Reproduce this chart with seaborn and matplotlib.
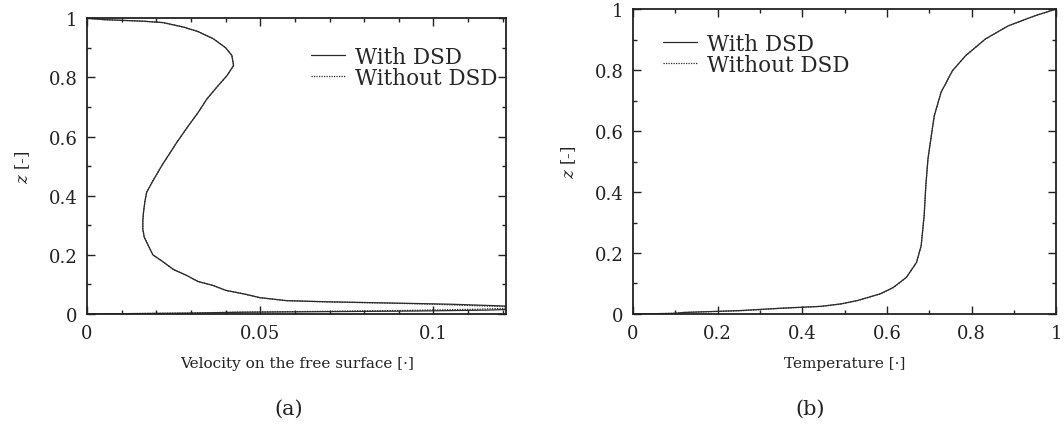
import numpy as np
import pandas as pd
import matplotlib
matplotlib.use("Agg")
import matplotlib.pyplot as plt
from matplotlib.ticker import MultipleLocator, FuncFormatter
import seaborn as sns

# (a) free-surface velocity profile, ordered along the curve
vel_z_with = [0.0, 0.003, 0.006, 0.008, 0.010, 0.013, 0.020, 0.028, 0.033, 0.037,
              0.041, 0.045, 0.055, 0.068, 0.080, 0.096, 0.110, 0.130, 0.150, 0.175,
              0.200, 0.231, 0.260, 0.287, 0.315, 0.344, 0.380, 0.411, 0.450, 0.502,
              0.540, 0.580, 0.637, 0.680, 0.727, 0.770, 0.806, 0.840, 0.874, 0.900,
              0.930, 0.955, 0.970, 0.985, 0.990, 0.995, 1.0]
vel_with = [0.0, 0.030, 0.045, 0.070, 0.095, 0.115, 0.135, 0.118, 0.105, 0.088,
            0.070, 0.0577, 0.050, 0.0452, 0.040, 0.0365, 0.032, 0.0288, 0.025, 0.0221,
            0.019, 0.0177, 0.0165, 0.0161, 0.0161, 0.0163, 0.0167, 0.0172, 0.019, 0.0216,
            0.0237, 0.0259, 0.0293, 0.032, 0.0346, 0.0377, 0.0404, 0.0423, 0.0418, 0.040,
            0.0365, 0.032, 0.0278, 0.022, 0.016, 0.005, 0.0]
vel_z_without = [0.0, 0.003, 0.006, 0.009, 0.012, 0.016, 0.022, 0.028, 0.033, 0.037,
                 0.041, 0.045, 0.055, 0.068, 0.080, 0.096, 0.110, 0.130, 0.150, 0.175,
                 0.200, 0.231, 0.260, 0.287, 0.315, 0.344, 0.380, 0.411, 0.450, 0.502,
                 0.540, 0.580, 0.637, 0.680, 0.727, 0.770, 0.806, 0.840, 0.874, 0.900,
                 0.930, 0.955, 0.970, 0.985, 0.990, 0.995, 1.0]
vel_without = [0.0, 0.028, 0.043, 0.068, 0.092, 0.112, 0.130, 0.112, 0.100, 0.086,
               0.069, 0.0575, 0.050, 0.0452, 0.040, 0.0365, 0.032, 0.0288, 0.025, 0.0221,
               0.019, 0.0177, 0.0165, 0.0161, 0.0161, 0.0163, 0.0167, 0.0172, 0.019, 0.0216,
               0.0237, 0.0259, 0.0293, 0.032, 0.0346, 0.0377, 0.0404, 0.0423, 0.0418, 0.040,
               0.0365, 0.032, 0.0278, 0.022, 0.016, 0.005, 0.0]

# (b) temperature profile
temp_z = [0.0, 0.002, 0.005, 0.011, 0.019, 0.025, 0.033, 0.044, 0.066, 0.087,
          0.120, 0.169, 0.224, 0.322, 0.421, 0.508, 0.585, 0.650, 0.727, 0.798,
          0.847, 0.902, 0.945, 0.978, 1.0]
temp_with = [0.0, 0.10, 0.12, 0.25, 0.351, 0.444, 0.491, 0.530, 0.584, 0.615,
             0.646, 0.670, 0.681, 0.688, 0.692, 0.697, 0.705, 0.712, 0.728, 0.755,
             0.786, 0.833, 0.887, 0.950, 1.0]
temp_without = [0.0, 0.09, 0.12, 0.26, 0.355, 0.446, 0.492, 0.531, 0.585, 0.616,
                0.646, 0.670, 0.681, 0.688, 0.692, 0.697, 0.705, 0.712, 0.728, 0.755,
                0.786, 0.833, 0.887, 0.950, 1.0]

sns.set_theme(style="white")
plt.rcParams["font.family"] = ["DejaVu Serif"]
plt.rcParams["mathtext.fontset"] = "dejavuserif"

fig = plt.figure(figsize=(10.64, 4.35), dpi=100)
ax1 = fig.add_axes([0.0818, 0.2759, 0.394, 0.680])
ax2 = fig.add_axes([0.595, 0.2759, 0.3976, 0.701])

line_color = "#2a2a2a"


def gfmt(x, pos):
    return "%g" % round(x, 4)


def style_axis(ax, xmaj, xmin, xlim):
    ax.set_xlim(*xlim)
    ax.set_ylim(0, 1)
    ax.xaxis.set_major_locator(MultipleLocator(xmaj))
    ax.xaxis.set_minor_locator(MultipleLocator(xmin))
    ax.yaxis.set_major_locator(MultipleLocator(0.2))
    ax.yaxis.set_minor_locator(MultipleLocator(0.1))
    ax.xaxis.set_major_formatter(FuncFormatter(gfmt))
    ax.yaxis.set_major_formatter(FuncFormatter(gfmt))
    ax.tick_params(which="both", direction="in", top=True, right=True,
                   bottom=True, left=True, colors="#222222", labelsize=13,
                   width=1.0)
    ax.tick_params(which="major", length=6, pad=7)
    ax.tick_params(which="minor", length=3)
    for s in ax.spines.values():
        s.set_color("#222222")
        s.set_linewidth(1.3)
    ax.set_ylabel(r"$z$ [-]", fontsize=12, labelpad=12, color="#222222")


# panel (a)
df_a1 = pd.DataFrame({"v": vel_with, "z": vel_z_with})
df_a2 = pd.DataFrame({"v": vel_without, "z": vel_z_without})
sns.lineplot(data=df_a1, x="v", y="z", sort=False, estimator=None, ax=ax1,
             color=line_color, lw=0.9, label="With DSD")
sns.lineplot(data=df_a2, x="v", y="z", sort=False, estimator=None, ax=ax1,
             color=line_color, lw=0.9, linestyle=(0, (1, 1)), label="Without DSD")
style_axis(ax1, 0.05, 0.01, (0, 0.121))
ax1.set_xlabel("Velocity on the free surface [·]", fontsize=11, labelpad=10,
               color="#222222")
ax1.legend(loc="upper right", bbox_to_anchor=(1.0, 0.935), frameon=False,
           fontsize=15.5, handlelength=1.6, handletextpad=0.45, labelspacing=-0.05,
           borderaxespad=0.0)

# panel (b)
df_b1 = pd.DataFrame({"T": temp_with, "z": temp_z})
df_b2 = pd.DataFrame({"T": temp_without, "z": temp_z})
sns.lineplot(data=df_b1, x="T", y="z", sort=False, estimator=None, ax=ax2,
             color=line_color, lw=0.9, label="With DSD")
sns.lineplot(data=df_b2, x="T", y="z", sort=False, estimator=None, ax=ax2,
             color=line_color, lw=0.9, linestyle=(0, (1, 1)), label="Without DSD")
style_axis(ax2, 0.2, 0.1, (0, 1))
ax2.set_xlabel("Temperature [·]", fontsize=11, labelpad=10, color="#222222")
ax2.legend(loc="upper left", bbox_to_anchor=(0.05, 0.95), frameon=False,
           fontsize=15.5, handlelength=1.6, handletextpad=0.45, labelspacing=-0.05,
           borderaxespad=0.0)

fig.text(0.271, 0.06, "(a)", ha="center", va="center", fontsize=15, color="#222222")
fig.text(0.761, 0.06, "(b)", ha="center", va="center", fontsize=15, color="#222222")

fig.savefig("out.png", dpi=100, facecolor="white")
